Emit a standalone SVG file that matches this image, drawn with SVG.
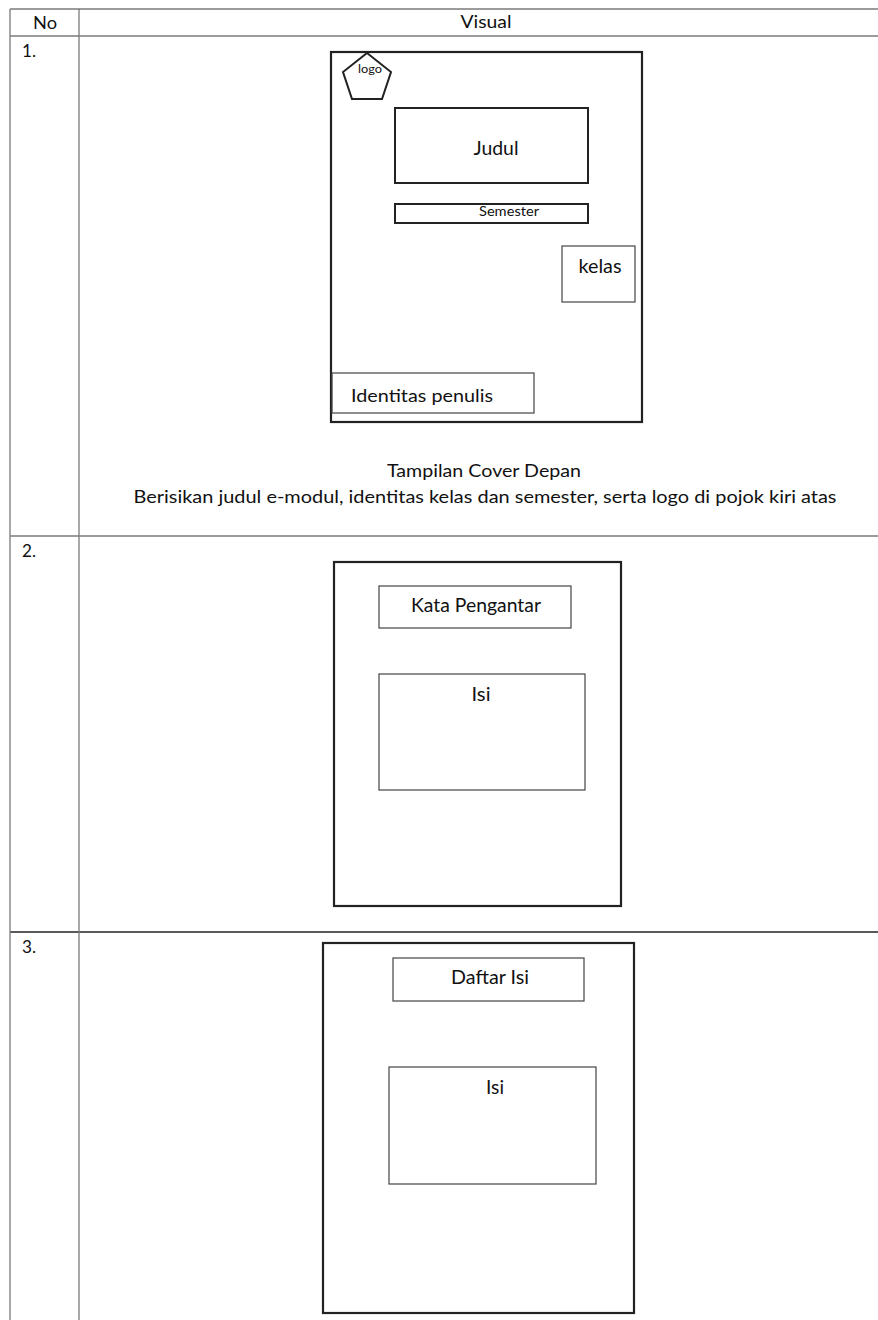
<svg xmlns="http://www.w3.org/2000/svg" width="878" height="1320" viewBox="0 0 878 1320">
<style>
  text { font-family: Lato, "Liberation Sans", sans-serif; fill: #111; }
  .grid { stroke: #7a7a7a; stroke-width: 1.3; fill: none; }
  .gridDark { stroke: #222; stroke-width: 1.3; fill: none; }
  .frame { stroke: #222; stroke-width: 2.2; fill: none; }
  .thick { stroke: #222; stroke-width: 2; fill: none; }
  .thin { stroke: #444; stroke-width: 1.2; fill: none; }
  .mid { text-anchor: middle; }
</style>
<rect x="0" y="0" width="878" height="1320" fill="#ffffff"/>

<g id="table">
  <line class="grid" x1="10" y1="9" x2="878" y2="9"/>
  <line class="grid" x1="10" y1="36" x2="878" y2="36"/>
  <line class="grid" x1="10" y1="536" x2="878" y2="536"/>
  <line class="gridDark" x1="10" y1="932" x2="878" y2="932"/>
  <line class="grid" x1="10" y1="9" x2="10" y2="1320"/>
  <line class="grid" x1="79" y1="9" x2="79" y2="1320"/>
  <text x="45" y="29" class="mid" font-size="18" textLength="24" lengthAdjust="spacingAndGlyphs">No</text>
  <text x="486" y="28" class="mid" font-size="18" textLength="51" lengthAdjust="spacingAndGlyphs">Visual</text>
  <text x="22" y="57" font-size="18" textLength="14" lengthAdjust="spacingAndGlyphs">1.</text>
  <text x="22" y="557" font-size="18" textLength="14" lengthAdjust="spacingAndGlyphs">2.</text>
  <text x="22" y="953" font-size="18" textLength="14" lengthAdjust="spacingAndGlyphs">3.</text>
</g>

<g id="cover">
  <rect class="frame" x="331" y="52" width="311" height="370"/>
  <g id="logo">
    <polygon class="thick" points="367,53 391,72 382,99 352,99 343,72"/>
    <text x="370" y="73" class="mid" font-size="11" textLength="24" lengthAdjust="spacingAndGlyphs">logo</text>
  </g>
  <g id="judul">
    <rect class="thick" x="395" y="108" width="193" height="75"/>
    <text x="496" y="155" class="mid" font-size="20" textLength="45" lengthAdjust="spacingAndGlyphs">Judul</text>
  </g>
  <g id="semester">
    <rect class="thick" x="395" y="204" width="193" height="19"/>
    <text x="509" y="216" class="mid" font-size="13.5" textLength="60" lengthAdjust="spacingAndGlyphs">Semester</text>
  </g>
  <g id="kelas">
    <rect class="thin" x="562" y="246" width="73" height="56"/>
    <text x="600" y="273" class="mid" font-size="19" textLength="43" lengthAdjust="spacingAndGlyphs">kelas</text>
  </g>
  <g id="identitas">
    <rect class="thin" x="332" y="373" width="202" height="40"/>
    <text x="351" y="402" font-size="18" textLength="142" lengthAdjust="spacingAndGlyphs">Identitas penulis</text>
  </g>
  <g id="caption1">
    <text x="484" y="477" class="mid" font-size="18" textLength="194" lengthAdjust="spacingAndGlyphs">Tampilan Cover Depan</text>
    <text x="485" y="503" class="mid" font-size="18" textLength="703" lengthAdjust="spacingAndGlyphs">Berisikan judul e-modul, identitas kelas dan semester, serta logo di pojok kiri atas</text>
  </g>
</g>

<g id="kata-pengantar-page">
  <rect class="frame" x="334" y="562" width="287" height="344"/>
  <g id="kata-pengantar">
    <rect class="thin" x="379" y="586" width="192" height="42"/>
    <text x="476" y="612" class="mid" font-size="18.5" textLength="130" lengthAdjust="spacingAndGlyphs">Kata Pengantar</text>
  </g>
  <g id="isi-2">
    <rect class="thin" x="379" y="674" width="206" height="116"/>
    <text x="481" y="701" class="mid" font-size="19" textLength="19" lengthAdjust="spacingAndGlyphs">Isi</text>
  </g>
</g>

<g id="daftar-isi-page">
  <rect class="frame" x="323" y="943" width="311" height="370"/>
  <g id="daftar-isi">
    <rect class="thin" x="393" y="958" width="191" height="43"/>
    <text x="490" y="984" class="mid" font-size="19" textLength="78" lengthAdjust="spacingAndGlyphs">Daftar Isi</text>
  </g>
  <g id="isi-3">
    <rect class="thin" x="389" y="1067" width="207" height="117"/>
    <text x="495" y="1094" class="mid" font-size="19" textLength="18" lengthAdjust="spacingAndGlyphs">Isi</text>
  </g>
</g>
</svg>
